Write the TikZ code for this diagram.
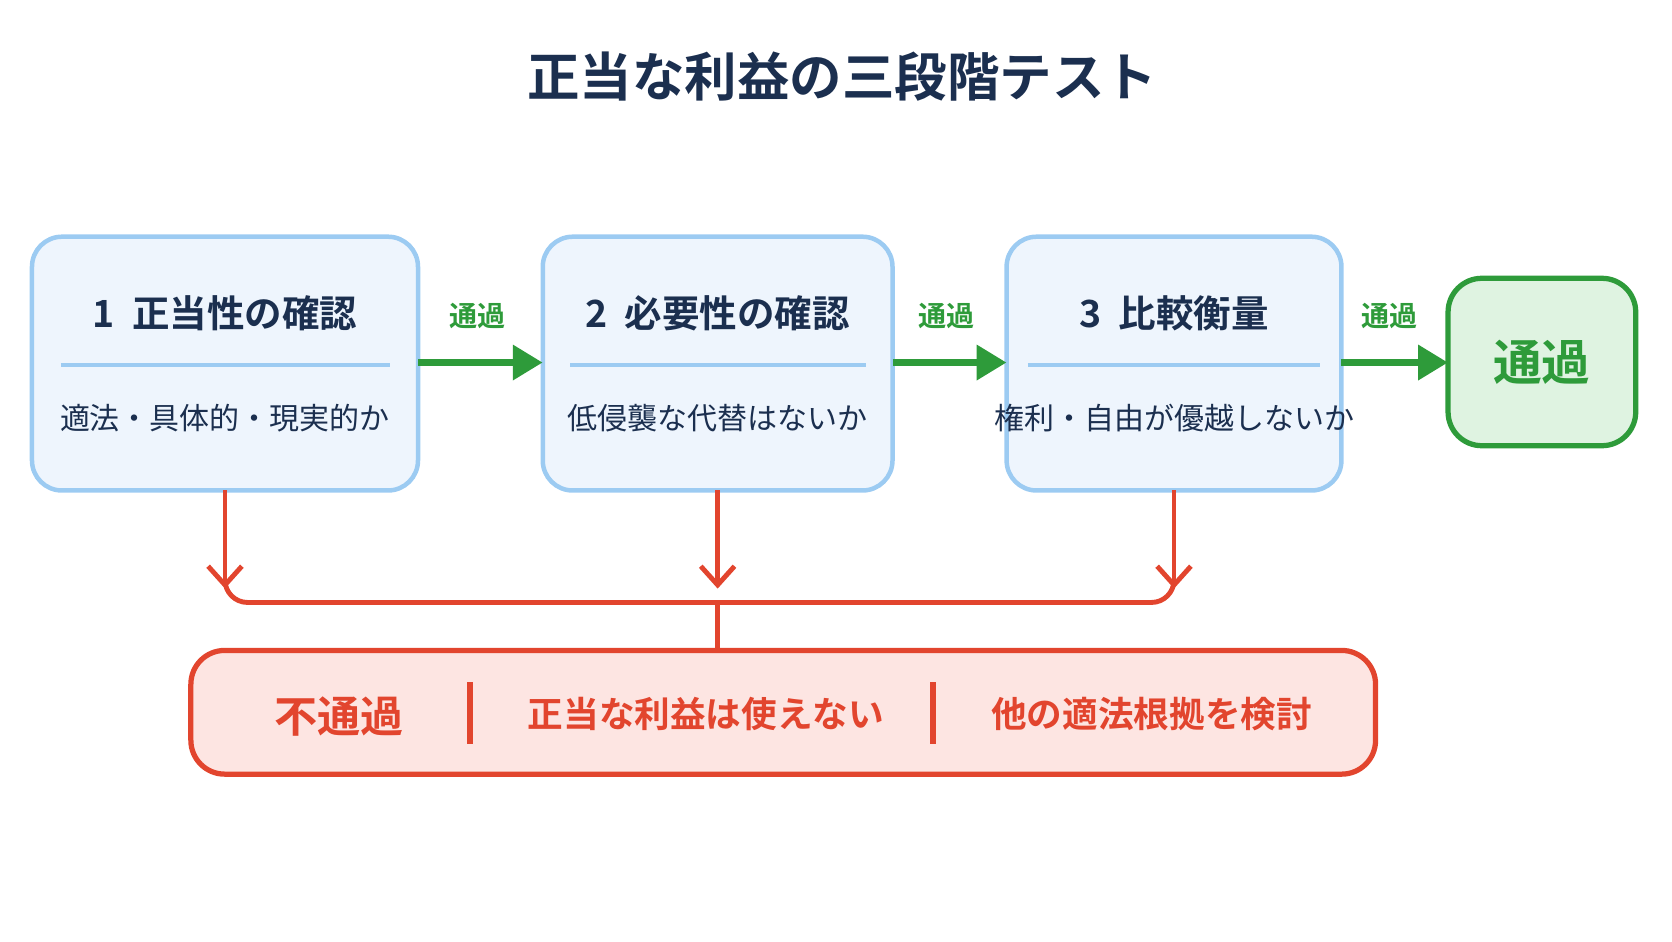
\documentclass[tikz,border=0pt]{standalone}
\usepackage{fontspec}
\setmainfont{Noto Sans CJK JP}
\newfontfamily\cjkb{Noto Sans CJK JP Bold}
\usetikzlibrary{arrows.meta}
\definecolor{navy}{HTML}{1B2F4F}
\definecolor{bbd}{HTML}{9CCBF2}
\definecolor{bbf}{HTML}{EEF5FD}
\definecolor{gd}{HTML}{2E9B3A}
\definecolor{gf}{HTML}{DFF3E1}
\definecolor{rd}{HTML}{E2452E}
\definecolor{rf}{HTML}{FDE5E2}
\begin{document}
\begin{tikzpicture}[x=0.01cm,y=-0.01cm,
 stage/.style={draw=bbd,fill=bbf,line width=1.2pt,rounded corners=8pt},
 head/.style={font=\cjkb\fontsize{10}{12}\selectfont,text=navy},
 sub/.style={font=\fontsize{8}{10}\selectfont,text=navy},
 garr/.style={draw=gd,line width=2pt,-{Triangle[length=8pt,width=9pt]}},
 glab/.style={font=\cjkb\fontsize{7.5}{9}\selectfont,text=gd},
 rline/.style={draw=rd,line width=1.3pt},
 rarr/.style={rline,-{Straight Barb[length=5pt,width=9pt]}},
 rtxt/.style={font=\cjkb\fontsize{9.5}{11}\selectfont,text=rd}]
\useasboundingbox (0,0) rectangle (1568,883);
\node[font=\cjkb\fontsize{14}{16}\selectfont,text=navy] (title) at (790,72) {正当な利益の三段階テスト};
\draw[stage] (30,222) rectangle (392,460); \coordinate (b1) at (211,460);
\draw[stage] (509,222) rectangle (837,460); \coordinate (b2) at (673,460);
\draw[stage] (944,222) rectangle (1258,460); \coordinate (b3) at (1101,460);
\draw[draw=gd,fill=gf,line width=1.4pt,rounded corners=9pt] (1358,261) rectangle (1534,418);
\foreach \a/\b in {57/366,535/812,964/1238} \draw[bbd,line width=1pt] (\a,342)--(\b,342);
\node[head] (h1) at (211,294) {1\ \ 正当性の確認};
\node[head] (h2) at (673,294) {2\ \ 必要性の確認};
\node[head] (h3) at (1101,294) {3\ \ 比較衡量};
\node[sub] (s1) at (211,392) {適法・具体的・現実的か};
\node[sub] (s2) at (673,392) {低侵襲な代替はないか};
\node[sub] (s3) at (1101,392) {権利・自由が優越しないか};
\node[font=\cjkb\fontsize{13}{15}\selectfont,text=gd] (pass) at (1446,340) {通過};
\coordinate (e1) at (392,340); \coordinate (e2) at (509,340);
\coordinate (e3) at (837,340); \coordinate (e4) at (944,340);
\coordinate (e5) at (1258,340); \coordinate (e6) at (1358,340);
\draw[garr] (e1)--(e2); \draw[garr] (e3)--(e4); \draw[garr] (e5)--(e6);
\node[glab] at (448,296) {通過}; \node[glab] at (888,296) {通過}; \node[glab] at (1303,296) {通過};
\draw[rarr] (b1)--(211,552); \draw[rarr] (b2)--(673,552); \draw[rarr] (b3)--(1101,552);
\draw[rline,rounded corners=6pt] (211,548)--(211,565)--(1101,565)--(1101,548);
\draw[rline] (673,565)--(673,610);
\draw[draw=rd,fill=rf,line width=1.4pt,rounded corners=9pt] (179,610) rectangle (1290,726);
\node[font=\cjkb\fontsize{11.5}{13}\selectfont,text=rd] (f) at (318,672) {不通過};
\draw[rline,line width=1.5pt] (441,640)--(441,698);
\draw[rline,line width=1.5pt] (875,640)--(875,698);
\node[rtxt] (f2) at (662,670) {正当な利益は使えない};
\node[rtxt] (f3) at (1080,670) {他の適法根拠を検討};
\end{tikzpicture}
\end{document}
